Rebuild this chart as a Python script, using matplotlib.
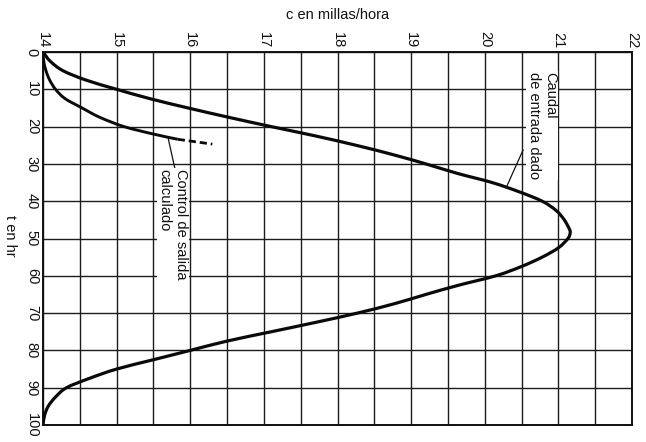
import numpy as np
import matplotlib
matplotlib.use("Agg")
import matplotlib.pyplot as plt
from matplotlib.path import Path
from matplotlib.patches import PathPatch

plt.rcParams['font.family'] = ['Liberation Sans', 'DejaVu Sans']

# Inflow hydrograph (given): time in hours, speed in miles/hour
t_inflow = [0, 2.5, 5, 7.5, 10, 12.5, 15, 17.5, 20, 22.5, 25, 27.5, 30, 32.5,
            35, 37.5, 40, 42.5, 45, 47.5, 48.5, 50, 52.5, 55, 57.5, 60, 62.5,
            65, 67.5, 70, 72.5, 75, 77.5, 80, 82.5, 85, 87.5, 90, 92.5, 95,
            97.5, 100]
c_inflow = [14.0, 14.1, 14.27, 14.58, 15.0, 15.45, 15.97, 16.52, 17.1, 17.7,
            18.25, 18.75, 19.2, 19.62, 20.1, 20.47, 20.78, 20.97, 21.08, 21.15,
            21.16, 21.13, 21.0, 20.78, 20.5, 20.15, 19.65, 19.2, 18.77, 18.27,
            17.7, 17.1, 16.5, 16.0, 15.5, 15.0, 14.63, 14.32, 14.17, 14.07,
            14.02, 14.0]

# Computed outflow control
t_outflow = [0, 2.5, 5, 7.5, 10, 12.5, 15, 17.5, 20, 22, 23.4]
c_outflow = [14.0, 14.01, 14.04, 14.09, 14.17, 14.3, 14.53, 14.77, 15.1,
             15.5, 15.83]
t_outflow_dash = [23.4, 24.7]
c_outflow_dash = [15.83, 16.3]

c_ticks = [14, 15, 16, 17, 18, 19, 20, 21, 22]
t_ticks = [0, 10, 20, 30, 40, 50, 60, 70, 80, 90, 100]


def smooth_path(xs, ys):
    """Cubic Bezier path passing through every given point (Catmull-Rom)."""
    p = np.column_stack([xs, ys]).astype(float)
    ext = np.vstack([p[0], p, p[-1]])
    verts = [p[0]]
    codes = [Path.MOVETO]
    for i in range(len(p) - 1):
        a, b, c, d = ext[i], ext[i + 1], ext[i + 2], ext[i + 3]
        verts += [b + (c - a) / 6.0, c - (d - b) / 6.0, c]
        codes += [Path.CURVE4] * 3
    return Path(verts, codes)


W, H = 646, 442
fig = plt.figure(figsize=(W / 100, H / 100), dpi=100)
x0, x1, y0, y1 = 43, 632, 52, 425
ax = fig.add_axes([x0 / W, 1 - y1 / H, (x1 - x0) / W, (y1 - y0) / H])

ax.set_xlim(c_ticks[0], c_ticks[-1])
ax.set_ylim(t_ticks[-1], t_ticks[0])
ax.xaxis.tick_top()
ax.set_xticks(c_ticks)
ax.set_xticks(np.arange(14.5, 22, 1.0), minor=True)
ax.set_yticks(t_ticks)
ax.tick_params(which='both', length=0)
ax.tick_params(axis='both', labelsize=10.5, pad=3, labelcolor='#111111')
for lab in ax.get_xticklabels():
    lab.set_rotation(-90)
    lab.set_ha('center')
    lab.set_va('bottom')
for lab in ax.get_yticklabels():
    lab.set_rotation(-90)
    lab.set_ha('right')
    lab.set_va('center')

ax.grid(which='both', color='#1c1c1c', lw=1.0)
ax.set_axisbelow(True)
for sp in ax.spines.values():
    sp.set_color('#111111')
    sp.set_linewidth(1.4)

ax.add_patch(PathPatch(smooth_path(c_inflow, t_inflow), fill=False,
                       edgecolor='#0a0a0a', lw=2.3, capstyle='round',
                       joinstyle='round', zorder=3))
ax.add_patch(PathPatch(smooth_path(c_outflow, t_outflow), fill=False,
                       edgecolor='#0a0a0a', lw=2.1, capstyle='butt',
                       joinstyle='round', zorder=3))
ax.plot(c_outflow_dash, t_outflow_dash, color='#0a0a0a', lw=2.0,
        dashes=(2.6, 1.4), zorder=3)

# Leader lines and labels
ax.plot([15.70, 15.79], [23.1, 31.1], color='#111111', lw=0.9, zorder=3)
ax.text(15.76, 31.4, "Control de salida\ncalculado", rotation=-90,
        ha='center', va='top', multialignment='left', fontsize=10.5,
        color='#111111', zorder=4,
        bbox=dict(facecolor='white', edgecolor='none', pad=0.6))
ax.plot([20.52, 20.29], [26.3, 36.4], color='#111111', lw=0.9, zorder=3)
ax.text(20.78, 5.3, "Caudal\nde entrada dado", rotation=-90,
        ha='center', va='top', multialignment='left', fontsize=10.5,
        color='#111111', zorder=4,
        bbox=dict(facecolor='white', edgecolor='none', pad=0.6))

fig.text(338 / W, 1 - 15 / H, "c en millas/hora", ha='center', va='center',
         fontsize=10.5, color='#111111')
fig.text(10 / W, 1 - 236 / H, "t en hr", ha='center', va='center',
         rotation=-90, fontsize=10.5, color='#111111')

fig.savefig("out.png", dpi=100)
